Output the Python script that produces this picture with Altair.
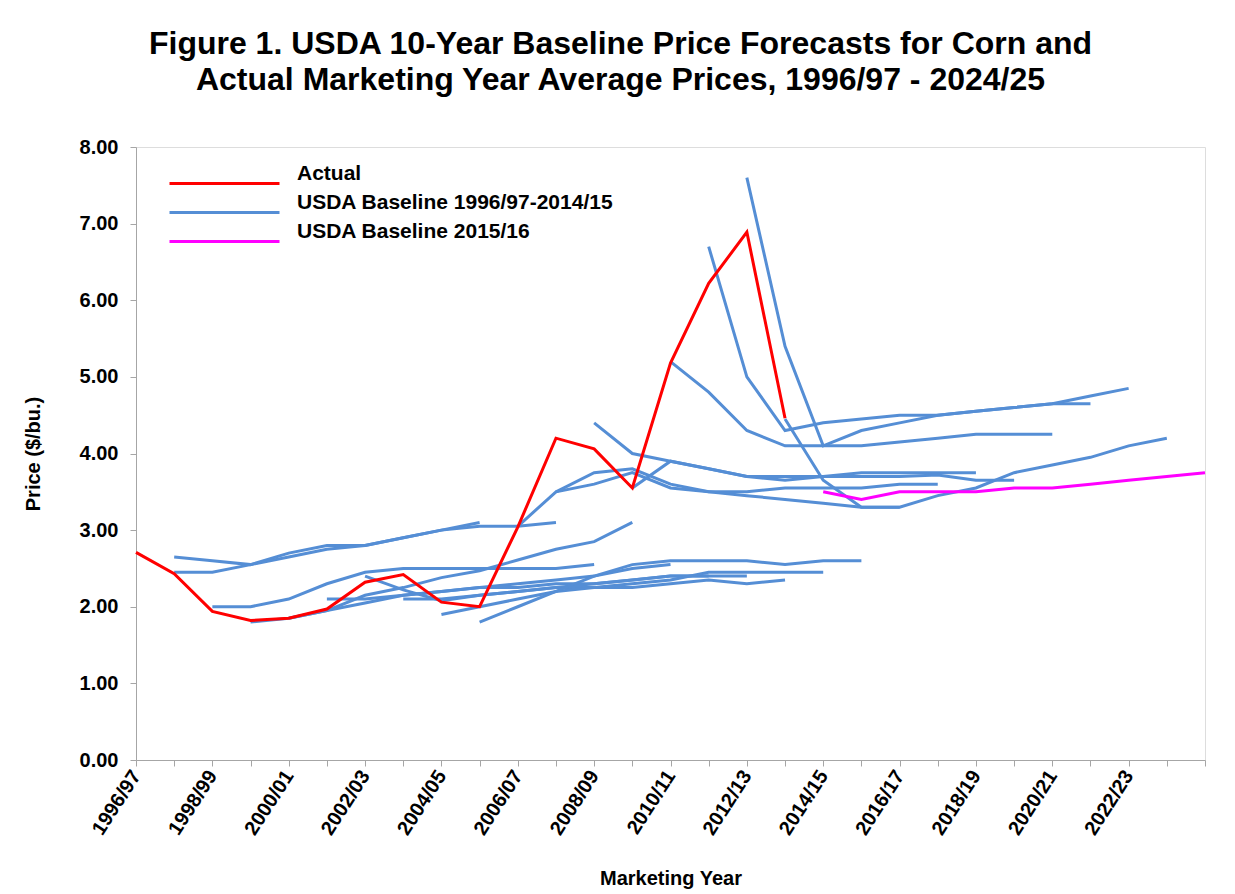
import json
import altair as alt
import pandas as pd

# ---------------- data ----------------
years = ["1996/97", "1997/98", "1998/99", "1999/00", "2000/01", "2001/02", "2002/03",
         "2003/04", "2004/05", "2005/06", "2006/07", "2007/08", "2008/09", "2009/10",
         "2010/11", "2011/12", "2012/13", "2013/14", "2014/15", "2015/16", "2016/17",
         "2017/18", "2018/19", "2019/20", "2020/21", "2021/22", "2022/23", "2023/24",
         "2024/25"]

actual_start = "1996/97"
actual = [2.71, 2.43, 1.94, 1.82, 1.85, 1.97, 2.32, 2.42, 2.06, 2.00, 3.04, 4.20,
          4.06, 3.55, 5.18, 6.22, 6.89, 4.46]

# USDA baselines 1996/97-2014/15: (first marketing year, projected prices)
b1997 = ("1997/98", [2.65, 2.60, 2.55, 2.70, 2.80, 2.80, 2.90, 3.00, 3.10])
b1998 = ("1997/98", [2.45, 2.45, 2.55, 2.65, 2.75, 2.80, 2.90, 3.00, 3.05, 3.05, 3.10])
b1999 = ("1998/99", [2.00, 2.00, 2.10, 2.30, 2.45, 2.50, 2.50, 2.50, 2.50, 2.50, 2.55])
b2000 = ("1999/00", [1.80, 1.85, 1.95, 2.15, 2.25, 2.38, 2.47, 2.61, 2.75, 2.85, 3.10])
b2001 = ("2000/01", [1.85, 1.95, 2.05, 2.15, 2.20, 2.25, 2.30, 2.35, 2.40, 2.50, 2.55])
b2002 = ("2001/02", [2.10, 2.10, 2.15, 2.20, 2.25, 2.25, 2.30, 2.30, 2.35, 2.40, 2.40])
b2003 = ("2002/03", [2.40, 2.22, 2.08, 2.15, 2.20, 2.25, 2.30, 2.35, 2.40, 2.40, 2.40])
b2004 = ("2003/04", [2.10, 2.10, 2.15, 2.20, 2.25, 2.25, 2.25, 2.30, 2.35, 2.30, 2.35])
b2005 = ("2004/05", [1.90, 2.00, 2.10, 2.20, 2.25, 2.30, 2.35, 2.45, 2.45, 2.45, 2.45])
b2006 = ("2005/06", [1.80, 2.00, 2.20, 2.40, 2.55, 2.60, 2.60, 2.60, 2.55, 2.60, 2.60])
b2007 = ("2006/07", [3.05, 3.50, 3.60, 3.75, 3.55, 3.50, 3.45, 3.40, 3.35, 3.30, 3.30])
b2008 = ("2007/08", [3.50, 3.75, 3.80, 3.60, 3.50, 3.50, 3.55, 3.55, 3.55, 3.60, 3.60])
b2009 = ("2008/09", [4.40, 4.00, 3.90, 3.80, 3.70, 3.65, 3.70, 3.75, 3.75, 3.75, 3.75])
b2010 = ("2009/10", [3.55, 3.90, 3.80, 3.70, 3.70, 3.70, 3.70, 3.70, 3.72, 3.65, 3.65])
b2011 = ("2010/11", [5.20, 4.80, 4.30, 4.10, 4.10, 4.10, 4.15, 4.20, 4.25, 4.25, 4.25])
b2012 = ("2011/12", [6.70, 5.00, 4.30, 4.40, 4.45, 4.50, 4.50, 4.55, 4.60, 4.65, 4.65])
b2013 = ("2012/13", [7.60, 5.40, 4.10, 4.30, 4.40, 4.50, 4.55, 4.60, 4.65, 4.75, 4.85])
b2014 = ("2013/14", [4.45, 3.65, 3.30, 3.30, 3.45, 3.55, 3.75, 3.85, 3.95, 4.10, 4.20])
old_baselines = [b1997, b1998, b1999, b2000, b2001, b2002, b2003, b2004, b2005,
                 b2006, b2007, b2008, b2009, b2010, b2011, b2012, b2013, b2014]

b2015 = ("2014/15", [3.50, 3.40, 3.50, 3.50, 3.50, 3.55, 3.55, 3.60, 3.65, 3.70, 3.75])

legend_labels = ["Actual", "USDA Baseline 1996/97-2014/15", "USDA Baseline 2015/16"]
legend_colors = ["#FF0000", "#558ED5", "#FF00FF"]

title_lines = ["Figure 1. USDA 10-Year Baseline Price Forecasts for Corn and",
               "Actual Marketing Year Average Prices, 1996/97 - 2024/25"]


# ---------------- table ----------------
def rows(series, group, start, values):
    s = years.index(start)
    return [{"year": years[s + k], "idx": s + k, "price": v,
             "series": series, "group": group} for k, v in enumerate(values)]


blue_rows = []
for n, (st, vals) in enumerate(old_baselines):
    blue_rows += rows(f"b{n}", legend_labels[1], st, vals)
red_rows = rows("actual", legend_labels[0], actual_start, actual)
mag_rows = rows("b2015", legend_labels[2], b2015[0], b2015[1])

df_blue = pd.DataFrame(blue_rows)
df_red = pd.DataFrame(red_rows)
df_mag = pd.DataFrame(mag_rows)

FONT = "Liberation Sans"
label_expr = ("(indexof(%s, datum.value) %% 2 == 0 && indexof(%s, datum.value) < 27)"
              " ? datum.value : ''") % (json.dumps(years), json.dumps(years))

x_enc = alt.X("year:N", sort=years,
              scale=alt.Scale(type="point", padding=0, domain=years),
              axis=alt.Axis(title="Marketing Year", labelExpr=label_expr,
                            labelAngle=-57, labelAlign="right", labelBaseline="middle",
                            labelFontSize=20, labelFont=FONT, labelFontWeight="bold",
                            labelColor="black", labelOverlap=False, labelPadding=6,
                            titleFontSize=20, titleFont=FONT, titleFontWeight="bold",
                            titleColor="black", titlePadding=30,
                            domainColor="#A6A6A6", tickColor="#A6A6A6", tickSize=6,
                            grid=False))
y_enc = alt.Y("price:Q", scale=alt.Scale(domain=[0, 8], nice=False),
              axis=alt.Axis(title="Price ($/bu.)", values=[0, 1, 2, 3, 4, 5, 6, 7, 8],
                            format=".2f", labelFontSize=20, labelFont=FONT,
                            labelFontWeight="bold", labelColor="black", labelPadding=12,
                            titleFontSize=20, titleFont=FONT, titleFontWeight="bold",
                            titleColor="black", titlePadding=36,
                            domainColor="#A6A6A6", tickColor="#A6A6A6", tickSize=6,
                            grid=False))
color_enc = alt.Color("group:N",
                      scale=alt.Scale(domain=legend_labels, range=legend_colors),
                      legend=alt.Legend(title=None, orient="none", legendX=76, legendY=24,
                                        symbolType="M-5,0H5", symbolSize=484,
                                        symbolStrokeWidth=3, labelFontSize=21,
                                        labelFont=FONT, labelFontWeight="bold",
                                        labelColor="black", labelOffset=60,
                                        labelBaseline="bottom", rowPadding=1,
                                        labelLimit=600))


def layer(df):
    return alt.Chart(df).mark_line(strokeWidth=3).encode(
        x=x_enc, y=y_enc, color=color_enc, detail="series:N", order="idx:Q")


chart = alt.layer(layer(df_blue), layer(df_red), layer(df_mag)).properties(
    width=1069, height=613,
    title=alt.TitleParams(text=title_lines, fontSize=32, font=FONT, fontWeight="bold",
                          color="black", anchor="middle", offset=40, lineHeight=36,
                          dx=-50),
    autosize=alt.AutoSizeParams(type="none"),
    padding={"left": 136, "top": 147, "right": 30, "bottom": 134},
).configure_view(stroke=None).configure(background="white")

chart.save("out.html", embed_options={"renderer": "svg", "actions": False})
